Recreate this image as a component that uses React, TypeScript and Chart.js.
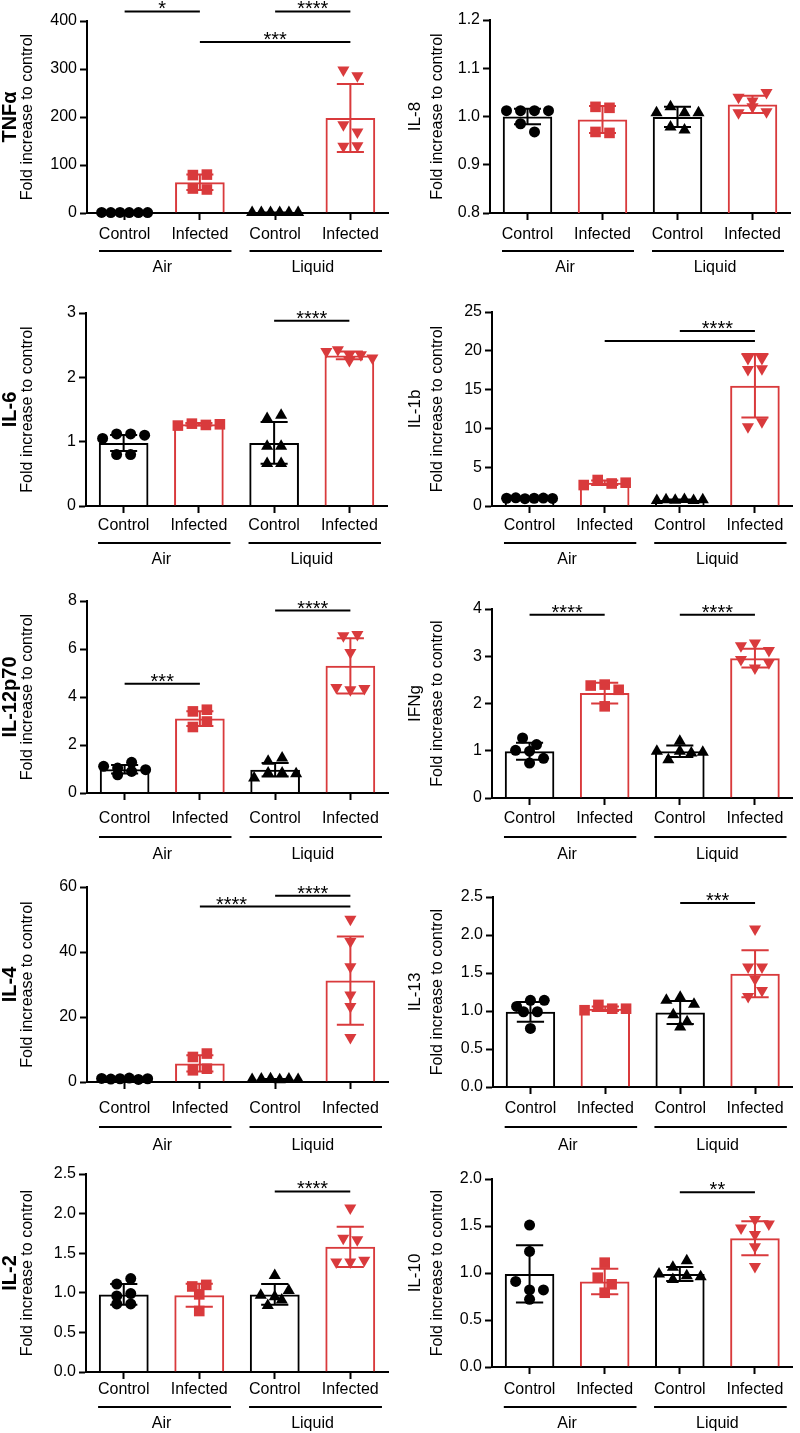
import React, { useEffect, useRef } from "react";
import { Chart, registerables } from "chart.js";

Chart.register(...registerables);

// ---------------- data ----------------
const CATEGORIES = ["Control", "Infected", "Control", "Infected"];
const GROUPS = ["Air", "Liquid"];
const Y_TITLE = "Fold increase to control";

// TNFα
const tnfMeans = [1, 64, 1, 198];
const tnfSd = [0.3, 16, 0.3, 71];
const tnfAirControl = [1.2, 0.8, 1.1, 0.9, 1.0, 1.0];
const tnfAirInfected = [51, 79, 80, 49];
const tnfLiquidControl = [0.9, 1.1, 1.0, 0.8, 1.2, 1.0];
const tnfLiquidInfected = [298, 286, 184, 169, 139, 140];
const tnfTicks = [0, 100, 200, 300, 400];
const tnfSig = [
  { from: 0, to: 1, y: 420, label: "*" },
  { from: 2, to: 3, y: 420, label: "****" },
  { from: 1, to: 3, y: 356, label: "***" },
];

// IL-8
const il8Means = [1.0, 0.994, 0.999, 1.025];
const il8Sd = [0.016, 0.028, 0.021, 0.018];
const il8AirControl = [1.012, 1.012, 1.012, 1.012, 0.985, 0.968];
const il8AirInfected = [1.02, 1.018, 0.968, 0.966];
const il8LiquidControl = [1.008, 1.02, 1.008, 1.008, 0.978, 0.972];
const il8LiquidInfected = [1.04, 1.032, 1.05, 1.008, 1.02, 1.01];
const il8Ticks = [0.8, 0.9, 1.0, 1.1, 1.2];
const il8Sig: any[] = [];

// IL-6
const il6Means = [0.98, 1.27, 0.98, 2.34];
const il6Sd = [0.125, 0.02, 0.325, 0.06];
const il6AirControl = [1.05, 1.12, 0.8, 1.12, 0.8, 1.1];
const il6AirInfected = [1.25, 1.28, 1.26, 1.27];
const il6LiquidControl = [0.66, 0.93, 1.36, 1.41, 0.93, 0.66];
const il6LiquidInfected = [2.4, 2.43, 2.26, 2.35, 2.35, 2.3];
const il6Ticks = [0, 1, 2, 3];
const il6Sig = [{ from: 2, to: 3, y: 2.88, label: "****" }];

// IL-1b
const il1bMeans = [1.0, 2.99, 0.77, 15.5];
const il1bSd = [0.06, 0.28, 0.06, 4.1];
const il1bAirControl = [1.0, 1.05, 0.95, 1.0, 1.02, 0.98];
const il1bAirInfected = [2.7, 3.35, 2.9, 3.0];
const il1bLiquidControl = [0.7, 0.8, 0.75, 0.85, 0.7, 0.8];
const il1bLiquidInfected = [19.0, 17.6, 10.2, 17.7, 19.0, 10.85];
const il1bTicks = [0, 5, 10, 15, 20, 25];
const il1bSig = [
  { from: 2, to: 3, y: 22.55, label: "****" },
  { from: 1, to: 3, y: 21.27, label: "" },
];

// IL-12p70
const il12Means = [0.99, 3.1, 0.97, 5.3];
const il12Sd = [0.175, 0.31, 0.285, 1.15];
const il12AirControl = [1.11, 0.76, 1.04, 1.28, 0.9, 0.97];
const il12AirInfected = [2.75, 3.4, 3.47, 2.98];
const il12LiquidControl = [0.62, 1.32, 1.46, 0.83, 0.83, 0.8];
const il12LiquidInfected = [6.55, 6.6, 5.85, 4.4, 4.3, 4.35];
const il12Ticks = [0, 2, 4, 6, 8];
const il12Sig = [
  { from: 0, to: 1, y: 4.55, label: "***" },
  { from: 2, to: 3, y: 7.6, label: "****" },
];

// IFNg
const ifngMeans = [0.99, 2.22, 0.99, 2.96];
const ifngSd = [0.18, 0.22, 0.12, 0.2];
const ifngAirControl = [1.27, 1.01, 1.13, 0.99, 0.84, 0.74];
const ifngAirInfected = [2.38, 2.4, 2.29, 1.94];
const ifngLiquidControl = [1.2, 0.99, 0.81, 0.99, 0.95, 0.97];
const ifngLiquidInfected = [3.22, 3.28, 3.12, 2.93, 2.75, 2.86];
const ifngTicks = [0, 1, 2, 3, 4];
const ifngSig = [
  { from: 0, to: 1, y: 3.88, label: "****" },
  { from: 2, to: 3, y: 3.88, label: "****" },
];

// IL-4
const il4Means = [1.0, 5.7, 0.8, 31.2];
const il4Sd = [0.1, 2.5, 0.1, 13.6];
const il4AirControl = [1.1, 0.9, 1.0, 1.2, 0.8, 1.0];
const il4AirInfected = [3.6, 7.7, 8.75, 4.1];
const il4LiquidControl = [0.8, 0.9, 1.0, 0.7, 0.9, 0.8];
const il4LiquidInfected = [50.1, 43.2, 35.5, 26.8, 23.2, 13.7];
const il4Ticks = [0, 20, 40, 60];
const il4Sig = [
  { from: 2, to: 3, y: 57.3, label: "****" },
  { from: 1, to: 3, y: 54.0, label: "****", labelAt: 1.42 },
];

// IL-13
const il13Means = [0.99, 1.03, 0.98, 1.49];
const il13Sd = [0.13, 0.03, 0.15, 0.31];
const il13AirControl = [1.06, 1.14, 1.14, 0.99, 0.99, 0.77];
const il13AirInfected = [1.01, 1.08, 1.03, 1.03];
const il13LiquidControl = [1.14, 1.18, 1.09, 0.95, 0.79, 0.86];
const il13LiquidInfected = [2.08, 1.58, 1.58, 1.42, 1.19, 1.27];
const il13Ticks = [0, 0.5, 1.0, 1.5, 2.0, 2.5];
const il13Sig = [{ from: 2, to: 3, y: 2.42, label: "***" }];

// IL-2
const il2Means = [0.98, 0.97, 0.98, 1.58];
const il2Sd = [0.13, 0.145, 0.13, 0.255];
const il2AirControl = [1.11, 1.18, 0.96, 0.86, 0.86, 0.99];
const il2AirInfected = [1.08, 1.1, 0.98, 0.77];
const il2LiquidControl = [1.22, 0.97, 0.84, 0.95, 1.03, 0.91];
const il2LiquidInfected = [2.07, 1.69, 1.67, 1.39, 1.39, 1.41];
const il2Ticks = [0, 0.5, 1.0, 1.5, 2.0, 2.5];
const il2Sig = [{ from: 2, to: 3, y: 2.28, label: "****" }];

// IL-10
const il10Means = [0.99, 0.91, 0.99, 1.37];
const il10Sd = [0.305, 0.135, 0.075, 0.18];
const il10AirControl = [1.51, 1.23, 0.91, 0.82, 0.82, 0.72];
const il10AirInfected = [1.11, 0.95, 0.88, 0.79];
const il10LiquidControl = [1.06, 1.13, 0.99, 0.93, 0.97, 0.96];
const il10LiquidInfected = [1.48, 1.57, 1.41, 1.28, 1.07, 1.52];
const il10Ticks = [0, 0.5, 1.0, 1.5, 2.0];
const il10Sig = [{ from: 2, to: 3, y: 1.86, label: "**" }];

// ---------------- layout / style ----------------
const FONT = "'Liberation Sans', Arial, Helvetica, sans-serif";
const BLACK = "#000000";
const RED = "#d93a3c";
const TICK_LEN = 7;

const ROWS = [
  { top: 0, h: 290, labelY: 234, lineY: 251, groupY: 268 },
  { top: 290, h: 285, labelY: 525, lineY: 543, groupY: 560 },
  { top: 575, h: 290, labelY: 818, lineY: 837, groupY: 855 },
  { top: 865, h: 292, labelY: 1108, lineY: 1127, groupY: 1146 },
  { top: 1157, h: 276, labelY: 1389, lineY: 1407, groupY: 1424 },
];

const PANELS = [
  { name: "TNFα", bold: true, means: tnfMeans, sd: tnfSd, points: [tnfAirControl, tnfAirInfected, tnfLiquidControl, tnfLiquidInfected], ticks: tnfTicks, decimals: 0, sig: tnfSig, col: 0, row: 0, area: { l: 87, t: 21, r: 388, b: 213 } },
  { name: "IL-8", bold: false, means: il8Means, sd: il8Sd, points: [il8AirControl, il8AirInfected, il8LiquidControl, il8LiquidInfected], ticks: il8Ticks, decimals: 1, sig: il8Sig, col: 1, row: 0, area: { l: 490, t: 20, r: 790, b: 213 } },
  { name: "IL-6", bold: true, means: il6Means, sd: il6Sd, points: [il6AirControl, il6AirInfected, il6LiquidControl, il6LiquidInfected], ticks: il6Ticks, decimals: 0, sig: il6Sig, col: 0, row: 1, area: { l: 86, t: 313, r: 387, b: 506 } },
  { name: "IL-1b", bold: false, means: il1bMeans, sd: il1bSd, points: [il1bAirControl, il1bAirInfected, il1bLiquidControl, il1bLiquidInfected], ticks: il1bTicks, decimals: 0, sig: il1bSig, col: 1, row: 1, area: { l: 492, t: 312, r: 793, b: 506 } },
  { name: "IL-12p70", bold: true, means: il12Means, sd: il12Sd, points: [il12AirControl, il12AirInfected, il12LiquidControl, il12LiquidInfected], ticks: il12Ticks, decimals: 0, sig: il12Sig, col: 0, row: 2, area: { l: 87, t: 601, r: 388, b: 793 } },
  { name: "IFNg", bold: false, means: ifngMeans, sd: ifngSd, points: [ifngAirControl, ifngAirInfected, ifngLiquidControl, ifngLiquidInfected], ticks: ifngTicks, decimals: 0, sig: ifngSig, col: 1, row: 2, area: { l: 492, t: 609, r: 793, b: 798 } },
  { name: "IL-4", bold: true, means: il4Means, sd: il4Sd, points: [il4AirControl, il4AirInfected, il4LiquidControl, il4LiquidInfected], ticks: il4Ticks, decimals: 0, sig: il4Sig, col: 0, row: 3, area: { l: 87, t: 887, r: 388, b: 1082 } },
  { name: "IL-13", bold: false, means: il13Means, sd: il13Sd, points: [il13AirControl, il13AirInfected, il13LiquidControl, il13LiquidInfected], ticks: il13Ticks, decimals: 1, sig: il13Sig, col: 1, row: 3, area: { l: 493, t: 897, r: 796, b: 1087 } },
  { name: "IL-2", bold: true, means: il2Means, sd: il2Sd, points: [il2AirControl, il2AirInfected, il2LiquidControl, il2LiquidInfected], ticks: il2Ticks, decimals: 1, sig: il2Sig, col: 0, row: 4, area: { l: 86, t: 1174, r: 388, b: 1372 } },
  { name: "IL-10", bold: false, means: il10Means, sd: il10Sd, points: [il10AirControl, il10AirInfected, il10LiquidControl, il10LiquidInfected], ticks: il10Ticks, decimals: 1, sig: il10Sig, col: 1, row: 4, area: { l: 492, t: 1179, r: 795, b: 1367 } },
];

const BAR_COLORS = [BLACK, RED, BLACK, RED];
const POINT_STYLES = ["circle", "rect", "triangle", "triangle"];
const POINT_ROT = [0, 0, 0, 180];
const POINT_RADIUS = [5.5, 7.5, 7, 7];

// simple beeswarm: points closer than ~9px are spread side by side
function beeswarm(vals: number[], pxPerUnit: number, catPx: number): number[] {
  const idx = vals.map((_, i) => i).sort((a, b) => vals[b] - vals[a]);
  const clusters: number[][] = [];
  let cur: number[] = [];
  let start = 0;
  for (const i of idx) {
    if (cur.length && (start - vals[i]) * pxPerUnit < 9) cur.push(i);
    else {
      if (cur.length) clusters.push(cur);
      cur = [i];
      start = vals[i];
    }
  }
  if (cur.length) clusters.push(cur);
  const out = new Array(vals.length).fill(0);
  for (const c of clusters) {
    c.sort((a, b) => a - b);
    const k = c.length;
    const sp = k > 1 ? Math.min(14, 46 / (k - 1)) : 0;
    c.forEach((i, j) => {
      out[i] = ((j - (k - 1) / 2) * sp) / catPx;
    });
  }
  return out;
}

function Panel({ cfg }: { cfg: any }) {
  const ref = useRef<HTMLCanvasElement>(null);
  const row = ROWS[cfg.row];
  const x0 = cfg.col * 400;

  useEffect(() => {
    const W = 400;
    const H = row.h;
    const a = cfg.area;
    const left = a.l - x0;
    const right = a.r - x0;
    const top = a.t - row.top;
    const bottom = a.b - row.top;
    const min = cfg.ticks[0];
    const max = cfg.ticks[cfg.ticks.length - 1];
    const pxPerUnit = (bottom - top) / (max - min);
    const catPx = (right - left) / 4;
    const labelPad = row.labelY - a.b - TICK_LEN - 9;

    const scatter = cfg.points.map((vals: number[], g: number) => {
      const offs = beeswarm(vals, pxPerUnit, catPx);
      return {
        type: "scatter",
        data: vals.map((v, i) => ({ x: g + offs[i], y: v })),
        xAxisID: "x",
        yAxisID: "y",
        pointStyle: POINT_STYLES[g],
        pointRotation: POINT_ROT[g],
        pointRadius: POINT_RADIUS[g],
        pointHoverRadius: POINT_RADIUS[g],
        backgroundColor: BAR_COLORS[g],
        borderColor: BAR_COLORS[g],
        borderWidth: 0,
        order: 0,
        clip: false,
      };
    });

    const decor = {
      id: "decor",
      afterDatasetDraw(chart: any, args: any) {
        if (args.index !== 0) return;
        const ctx = chart.ctx;
        const xs = chart.scales.x;
        const ys = chart.scales.y;
        ctx.save();
        ctx.lineWidth = 2;
        cfg.means.forEach((m: number, i: number) => {
          const px = xs.getPixelForValue(i);
          const yt = ys.getPixelForValue(m + cfg.sd[i]);
          const yb = ys.getPixelForValue(m - cfg.sd[i]);
          const half = catPx * 0.18;
          ctx.strokeStyle = BAR_COLORS[i];
          ctx.beginPath();
          ctx.moveTo(px, yt);
          ctx.lineTo(px, yb);
          ctx.moveTo(px - half, yt);
          ctx.lineTo(px + half, yt);
          ctx.moveTo(px - half, yb);
          ctx.lineTo(px + half, yb);
          ctx.stroke();
        });
        ctx.restore();
      },
      afterDraw(chart: any) {
        const ctx = chart.ctx;
        const xs = chart.scales.x;
        const ys = chart.scales.y;
        const ca = chart.chartArea;
        const cy = (ca.top + ca.bottom) / 2;
        ctx.save();
        ctx.fillStyle = BLACK;
        ctx.strokeStyle = BLACK;
        // axis titles
        const nameX = cfg.col === 0 ? 10 : 15;
        const foldX = cfg.col === 0 ? 28 : 38;
        ctx.textAlign = "center";
        ctx.textBaseline = "middle";
        ctx.save();
        ctx.translate(nameX, cy);
        ctx.rotate(-Math.PI / 2);
        ctx.font = (cfg.bold ? "bold 20px " : "17px ") + FONT;
        ctx.fillText(cfg.name, 0, 0);
        ctx.restore();
        ctx.save();
        ctx.translate(foldX, cy);
        ctx.rotate(-Math.PI / 2);
        ctx.font = "16px " + FONT;
        ctx.fillText(Y_TITLE, 0, 0);
        ctx.restore();
        // significance bars
        ctx.lineWidth = 2;
        cfg.sig.forEach((s: any) => {
          const x1 = xs.getPixelForValue(s.from);
          const x2 = xs.getPixelForValue(s.to);
          const yy = ys.getPixelForValue(s.y);
          ctx.beginPath();
          ctx.moveTo(x1, yy);
          ctx.lineTo(x2, yy);
          ctx.stroke();
          if (s.label) {
            const lx = s.labelAt !== undefined ? xs.getPixelForValue(s.labelAt) : (x1 + x2) / 2;
            ctx.font = "20px " + FONT;
            ctx.textAlign = "center";
            ctx.textBaseline = "alphabetic";
            ctx.fillText(s.label, lx, yy + 4);
          }
        });
        // group lines and labels
        const ly = row.lineY - row.top;
        const gy = row.groupY - row.top;
        GROUPS.forEach((g, k) => {
          const c0 = xs.getPixelForValue(2 * k);
          const c1 = xs.getPixelForValue(2 * k + 1);
          ctx.beginPath();
          ctx.moveTo(c0 - 0.34 * catPx, ly);
          ctx.lineTo(c1 + 0.42 * catPx, ly);
          ctx.stroke();
          ctx.font = "16px " + FONT;
          ctx.textAlign = "center";
          ctx.textBaseline = "middle";
          ctx.fillText(g, (c0 + c1) / 2, gy);
        });
        ctx.restore();
      },
    };

    const chart = new Chart(ref.current as HTMLCanvasElement, {
      type: "bar",
      data: {
        datasets: [
          {
            type: "bar",
            data: cfg.means.map((m: number, i: number) => ({ x: i, y: m })),
            backgroundColor: "rgba(0,0,0,0)",
            borderColor: BAR_COLORS,
            borderWidth: 2,
            grouped: false,
            categoryPercentage: 1,
            barPercentage: 0.66,
            order: 1,
            xAxisID: "x",
            yAxisID: "y",
          },
          ...scatter,
        ],
      } as any,
      options: {
        responsive: false,
        animation: false,
        devicePixelRatio: 1,
        events: [],
        layout: { padding: { left: 0, top: top, right: W - right, bottom: 0 } },
        plugins: { legend: { display: false }, tooltip: { enabled: false } },
        scales: {
          x: {
            type: "linear",
            position: "bottom",
            min: -0.5,
            max: 3.5,
            offset: false,
            grid: {
              offset: false,
              display: true,
              drawOnChartArea: false,
              drawTicks: true,
              tickLength: TICK_LEN,
              tickWidth: 2,
              tickColor: BLACK,
            },
            border: { display: true, color: BLACK, width: 2 },
            ticks: {
              color: BLACK,
              font: { family: FONT, size: 16 },
              padding: labelPad,
              maxRotation: 0,
              minRotation: 0,
              autoSkip: false,
              callback: (v: any) => CATEGORIES[Math.round(Number(v))] ?? "",
            },
            afterBuildTicks: (s: any) => {
              s.ticks = CATEGORIES.map((_, i) => ({ value: i }));
            },
            afterFit: (s: any) => {
              s.height = H - bottom;
            },
          },
          y: {
            type: "linear",
            min,
            max,
            grid: {
              display: true,
              drawOnChartArea: false,
              drawTicks: true,
              tickLength: TICK_LEN,
              tickWidth: 2,
              tickColor: BLACK,
            },
            border: { display: true, color: BLACK, width: 2 },
            ticks: {
              color: BLACK,
              font: { family: FONT, size: 16 },
              padding: 3,
              callback: (v: any) => Number(v).toFixed(cfg.decimals),
            },
            afterBuildTicks: (s: any) => {
              s.ticks = cfg.ticks.map((v: number) => ({ value: v }));
            },
            afterFit: (s: any) => {
              s.width = left;
            },
          },
        },
      } as any,
      plugins: [decor],
    });
    return () => chart.destroy();
  }, []);

  return (
    <canvas
      ref={ref}
      width={400}
      height={row.h}
      style={{ position: "absolute", left: x0, top: row.top, width: 400, height: row.h }}
    />
  );
}

export default function App() {
  return (
    <div style={{ position: "absolute", left: 0, top: 0, width: 800, height: 1433, background: "#ffffff", overflow: "hidden" }}>
      {PANELS.map((p, i) => (
        <Panel key={i} cfg={p} />
      ))}
    </div>
  );
}
